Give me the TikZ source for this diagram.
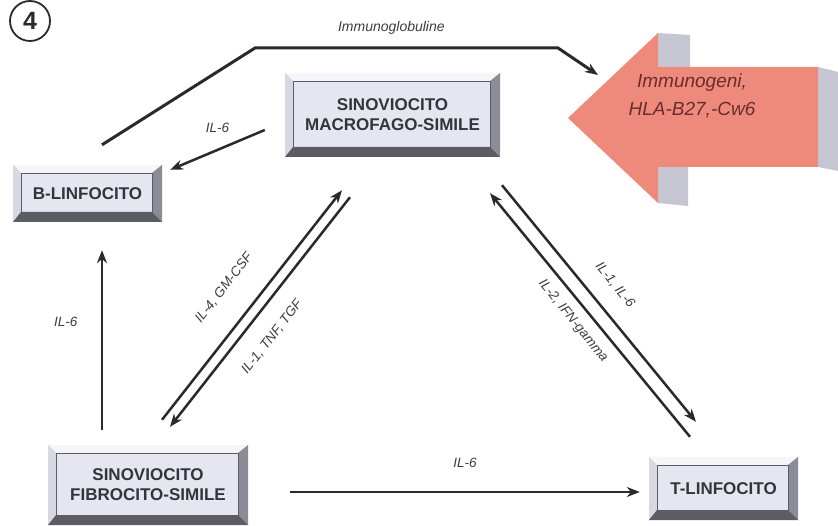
\documentclass[tikz,border=0pt]{standalone}
\usepackage{fontspec}
\setmainfont{Liberation Sans}
\usepackage{tikz}
\usetikzlibrary{arrows.meta}
\usetikzlibrary{positioning}

\definecolor{cellfill}{HTML}{E6E6F0}
\definecolor{celltext}{HTML}{34343C}
\definecolor{bevtop}{HTML}{F6F6FA}
\definecolor{bevleft}{HTML}{D8D8E2}
\definecolor{bevright}{HTML}{8C8C98}
\definecolor{bevbottom}{HTML}{5C5C66}
\definecolor{linecol}{HTML}{2A2A2E}
\definecolor{labtext}{HTML}{3C3C42}
\definecolor{antired}{HTML}{EE8A7C}
\definecolor{antigray}{HTML}{C6C6D2}
\definecolor{antitext}{HTML}{6A2C2C}

\newcommand{\cellfont}{\bfseries\fontsize{17}{20}\selectfont}
\newcommand{\labfont}{\itshape\fontsize{13.5}{15}\selectfont}

\tikzset{
 cellbox/.style={rectangle, fill=cellfill, text=celltext, font=\cellfont, align=center,
  path picture={
   \fill[bevtop] (path picture bounding box.north west) -- (path picture bounding box.north east)
    -- ([xshift=-10pt,yshift=-8pt]path picture bounding box.north east)
    -- ([xshift=8pt,yshift=-8pt]path picture bounding box.north west) -- cycle;
   \fill[bevleft] (path picture bounding box.north west) -- ([xshift=8pt,yshift=-8pt]path picture bounding box.north west)
    -- ([xshift=8pt,yshift=10pt]path picture bounding box.south west) -- (path picture bounding box.south west) -- cycle;
   \fill[bevright] (path picture bounding box.north east) -- (path picture bounding box.south east)
    -- ([xshift=-10pt,yshift=10pt]path picture bounding box.south east)
    -- ([xshift=-10pt,yshift=-8pt]path picture bounding box.north east) -- cycle;
   \fill[bevbottom] (path picture bounding box.south west) -- (path picture bounding box.south east)
    -- ([xshift=-10pt,yshift=10pt]path picture bounding box.south east)
    -- ([xshift=8pt,yshift=10pt]path picture bounding box.south west) -- cycle;
   \draw[bevbottom, line width=0.8pt] ([xshift=8pt,yshift=-8pt]path picture bounding box.north west)
    rectangle ([xshift=-10pt,yshift=10pt]path picture bounding box.south east);
  }},
 lbl/.style={font=\labfont, text=labtext},
 link/.style={->, line width=2.5pt, draw=linecol}
}

\begin{document}
\begin{tikzpicture}[x=1pt, y=-1pt, >={Stealth[length=13pt,width=10pt]}]
 \useasboundingbox (0,0) rectangle (838,526);
 % cells
 \begin{scope}[every node/.style={cellbox}]
 \node [minimum width=215pt, minimum height=84pt] (macro) at (392.5,115) {SINOVIOCITO\\MACROFAGO-SIMILE};
 \node [minimum width=149pt, minimum height=57pt] (bcell) at (87.5,193.5) {B-LINFOCITO};
 \node [minimum width=200pt, minimum height=80pt] (fibro) at (148,485) {SINOVIOCITO\\FIBROCITO-SIMILE};
 \node [minimum width=149pt, minimum height=63pt] (tcell) at (723.5,488.5) {T-LINFOCITO};
 \end{scope}
 \node [circle, draw=linecol, line width=1.8pt, minimum size=40pt, inner sep=0pt,
  font=\bfseries\fontsize{25}{25}\selectfont, text=linecol] (num) at (30,21) {4};

 % antigen arrow
 \fill [antigray] (658,33) -- (690,35) -- (690,67) -- (658,67) -- cycle;
 \fill [antigray] (658,167) -- (688,167) -- (688,206) -- (658,203) -- cycle;
 \fill [antigray] (818,67) -- (838,72) -- (838,171) -- (818,167) -- cycle;
 \fill [antired] (568,118) -- (658,33) -- (658,67) -- (818,67) -- (818,167)
  -- (658,167) -- (658,203) -- cycle;
 \node [font=\itshape\fontsize{19}{28}\selectfont, text=antitext, align=center] (antigen) at (692,96) {Immunogeni,\\HLA-B27,-Cw6};

 \coordinate (igl) at (255,48);
 \coordinate (igr) at (558,48);
 \coordinate (igend) at (598,75);
 \draw [link, line width=3pt] ([shift={(14.5,-20)}]bcell.north) -- (igl)
  -- node [pos=0.45, above=9pt, lbl, font=\itshape\fontsize{14}{16}\selectfont] (igtext) {Immunoglobuline} (igr) -- (igend);

 \draw [link] ([shift={(-20,15)}]macro.west) -- ([shift={(8,5)}]bcell.north east)
  node [midway, above=13pt, lbl] (il6b) {IL-6};
 \draw [link] ([shift={(-46,-15)}]fibro.north) -- ([shift={(14.5,28)}]bcell.south)
  node [pos=0.6, left=20pt, lbl] (il6v) {IL-6};
 \draw [link] ([shift={(42,7)}]fibro.east) -- ([shift={(-9,3.5)}]tcell.west)
  node [midway, above=20pt, lbl] (il6h) {IL-6};

 % macro <-> fibro
 \draw [link] ([shift={(14,-25)}]fibro.north) -- ([shift={(-50.5,33)}]macro.south);
 \draw [link] ([shift={(-42.5,40)}]macro.south) -- ([shift={(22,-18)}]fibro.north);
 \node [lbl, rotate=52] (lmf1) at (224,288) {IL-4, GM-CSF};
 \node [lbl, rotate=52] (lmf2) at (272,337) {IL-1, TNF, TGF};

 % macro <-> T
 \draw [link] ([shift={(-33.5,-20)}]tcell.north) -- ([shift={(97.5,36)}]macro.south);
 \draw [link] ([shift={(109.5,28)}]macro.south) -- ([shift={(-27.5,-35)}]tcell.north);
 \node [lbl, rotate=-51] (lmt1) at (615,285) {IL-1, IL-6};
 \node [lbl, rotate=-51] (lmt2) at (573,321) {IL-2, IFN-gamma};
\end{tikzpicture}
\end{document}
